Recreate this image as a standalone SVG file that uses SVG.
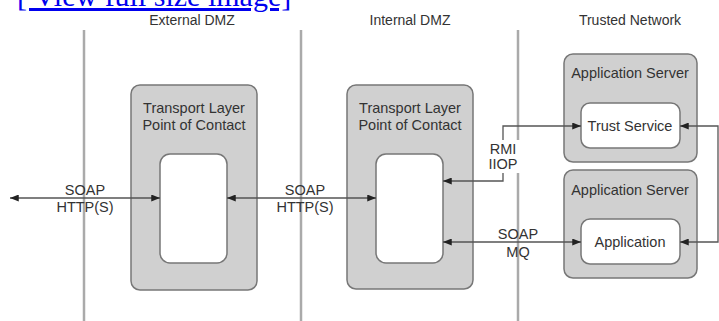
<svg xmlns="http://www.w3.org/2000/svg" width="719" height="321" viewBox="0 0 719 321">
  <defs>
    <style>
      .zone { stroke: #aaaaaa; stroke-width: 2.5; fill: none; }
      .zlabel { font-family: "Liberation Sans", Arial, sans-serif; font-size: 14px; fill: #333; text-anchor: middle; }
      .outer { fill: #d0d0d0; stroke: #777; stroke-width: 1.5; }
      .inner { fill: #ffffff; stroke: #777; stroke-width: 1.5; }
      .title { font-family: "Liberation Sans", Arial, sans-serif; font-size: 14.5px; fill: #333; text-anchor: middle; }
      .conn { stroke: #555; stroke-width: 1.3; fill: none; marker-end: url(#ah); }
      .both { marker-start: url(#ahs); }
      .lbl { font-family: "Liberation Sans", Arial, sans-serif; font-size: 14.5px; fill: #333; text-anchor: middle; }
      .link { font-family: "Liberation Serif", "Times New Roman", serif; font-size: 30px; fill: #0000ee; text-decoration: underline; }
    </style>
    <marker id="ah" viewBox="0 0 10 8" refX="10" refY="4" markerWidth="9" markerHeight="7" markerUnits="userSpaceOnUse" orient="auto">
      <path d="M0,0 L10,4 L0,8 Z" fill="#222"/>
    </marker>
    <marker id="ahs" viewBox="0 0 10 8" refX="0" refY="4" markerWidth="9" markerHeight="7" markerUnits="userSpaceOnUse" orient="auto">
      <path d="M10,0 L0,4 L10,8 Z" fill="#222"/>
    </marker>
  </defs>

  <rect width="719" height="321" fill="#ffffff"/>

  <!-- page link above the figure -->
  <text class="link" x="17" y="6">[ View full size image]</text>

  <!-- zone dividers and zone names -->
  <g id="zones">
    <line class="zone" x1="84" y1="30" x2="84" y2="321"/>
    <line class="zone" x1="301" y1="30" x2="301" y2="321"/>
    <line class="zone" x1="518" y1="30" x2="518" y2="321"/>
    <text class="zlabel" x="192" y="25">External DMZ</text>
    <text class="zlabel" x="410" y="25">Internal DMZ</text>
    <text class="zlabel" x="630" y="25">Trusted Network</text>
  </g>

  <g id="external-poc">
    <rect class="outer" x="131" y="85" width="126" height="205" rx="9"/>
    <text class="title" x="194" y="113">Transport Layer</text>
    <text class="title" x="194" y="130">Point of Contact</text>
    <rect class="inner" x="160" y="154" width="67" height="109" rx="10"/>
  </g>

  <g id="internal-poc">
    <rect class="outer" x="347" y="85" width="126" height="204" rx="9"/>
    <text class="title" x="410" y="113">Transport Layer</text>
    <text class="title" x="410" y="130">Point of Contact</text>
    <rect class="inner" x="376" y="154" width="67" height="109" rx="10"/>
  </g>

  <g id="trust-server">
    <rect class="outer" x="564" y="54" width="133" height="108" rx="9"/>
    <text class="title" x="630" y="78">Application Server</text>
    <rect class="inner" x="581" y="103" width="99" height="45" rx="9"/>
    <text class="title" x="630" y="131">Trust Service</text>
  </g>

  <g id="app-server">
    <rect class="outer" x="564" y="170" width="133" height="108" rx="9"/>
    <text class="title" x="630" y="195">Application Server</text>
    <rect class="inner" x="581" y="219" width="99" height="45" rx="9"/>
    <text class="title" x="630" y="247">Application</text>
  </g>

  <g id="connectors">
    <!-- client to external point of contact -->
    <line class="conn both" x1="10" y1="198" x2="160" y2="198"/>
    <text class="lbl" x="85" y="195">SOAP</text>
    <text class="lbl" x="85" y="212">HTTP(S)</text>

    <!-- external to internal point of contact -->
    <line class="conn both" x1="227" y1="198" x2="376" y2="198"/>
    <text class="lbl" x="305" y="195">SOAP</text>
    <text class="lbl" x="305" y="212">HTTP(S)</text>

    <!-- internal point of contact to trust service -->
    <path class="conn both" d="M443,181 H503 V126 H581"/>
    <rect x="485" y="140" width="36" height="33" fill="#ffffff"/>
    <text class="lbl" x="503" y="154">RMI</text>
    <text class="lbl" x="503" y="169">IIOP</text>

    <!-- internal point of contact to application -->
    <line class="conn both" x1="443" y1="242" x2="581" y2="242"/>
    <text class="lbl" x="518" y="239">SOAP</text>
    <text class="lbl" x="518" y="257">MQ</text>

    <!-- trust service to application -->
    <path class="conn both" d="M680,126 H718 V242 H680"/>
  </g>
</svg>
